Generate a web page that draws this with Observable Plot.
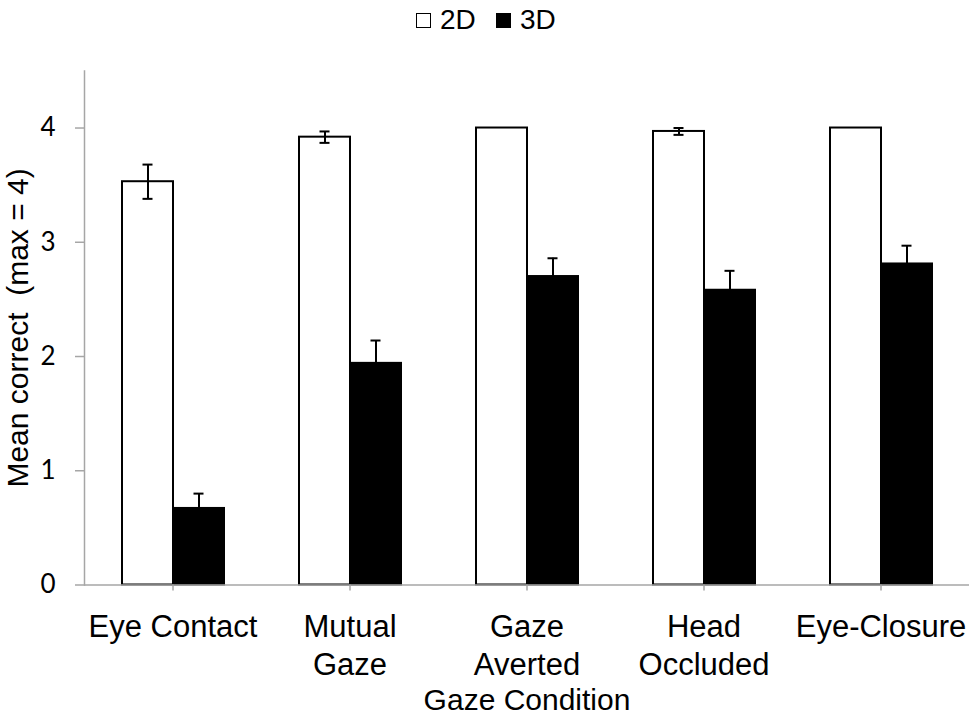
<!DOCTYPE html>
<html><head><meta charset="utf-8">
<script src="https://cdn.jsdelivr.net/npm/d3@7"></script>
<script src="https://cdn.jsdelivr.net/npm/@observablehq/plot@0.6"></script>
<style>
body{margin:0;background:#fff;width:975px;height:716px;overflow:hidden;}
#legend{height:40px;position:relative;font-family:"Liberation Sans",Arial,sans-serif;font-size:28px;color:#000;}
#legend .item{position:absolute;top:4px;display:flex;align-items:center;line-height:32px;}
#legend .sw{width:13px;height:13px;border:1.5px solid #000;margin-right:9px;}
#chart svg text{white-space:pre;}
#chart svg g[aria-label="y-axis tick label"]{font-family:Lato,"Open Sans",sans-serif;font-size:26px;}
#chart svg g[aria-label="fx-axis tick label"]{font-family:"Liberation Sans",Arial,sans-serif;font-size:31px;}
#chart svg g[aria-label="fx-axis label"]{font-family:"Liberation Sans",Arial,sans-serif;font-size:30px;}
</style></head><body>
<div id="legend"></div>
<div id="chart"></div>
<script>
const conditions = ["Eye Contact","Mutual Gaze","Gaze Averted","Head Occluded","Eye-Closure"];
const tickLabels = ["Eye Contact","Mutual\nGaze","Gaze\nAverted","Head\nOccluded","Eye-Closure"];
const series = ["2D","3D"];
const seriesColors = ["#ffffff","#000000"];
const mean2D = [3.53, 3.92, 4.00, 3.97, 4.00];
const err2D  = [0.15, 0.05, 0.00, 0.03, 0.00];
const mean3D = [0.67, 1.94, 2.70, 2.58, 2.81];
const err3D  = [0.13, 0.20, 0.16, 0.17, 0.16];
const yTicks = [0,1,2,3,4];
const yLabel = "Mean correct  (max = 4)";
const xLabel = "Gaze Condition";

const data = conditions.flatMap((c,i)=>[
  {condition:c, series:"2D", mean:mean2D[i], err:err2D[i]},
  {condition:c, series:"3D", mean:mean3D[i], err:err3D[i]}
]);
const errData = data.filter(d=>d.err>0);

// legend
const legend = document.getElementById("legend");
const legendLeft = [416, 496];
series.forEach((s,i)=>{
  const item = document.createElement("div");
  item.className="item";
  item.style.left = legendLeft[i]+"px";
  const sw = document.createElement("span");
  sw.className="sw"; sw.style.background = seriesColors[i];
  const t = document.createElement("span"); t.textContent = s;
  item.appendChild(sw); item.appendChild(t);
  legend.appendChild(item);
});

const axisGray = "#a6a6a6";
const chart = Plot.plot({
  width:975, height:676,
  marginLeft:84, marginRight:6, marginTop:30.4, marginBottom:131.5,
  fx:{domain:conditions, padding:0, label:null, axis:null},
  x:{domain:series, axis:null, paddingInner:0, paddingOuter:0.735},
  y:{domain:[0,4.5], axis:null},
  color:{domain:series, range:seriesColors},
  style:{fontFamily:"'Liberation Sans', Arial, sans-serif", background:"#fff", overflow:"visible"},
  marks:[
    Plot.barY(data,{fx:"condition", x:"series", y:"mean", fill:"series", stroke:"#000", strokeWidth:2}),
    Plot.ruleX(errData,{fx:"condition", x:"series", y1:d=>d.mean-d.err, y2:d=>d.mean+d.err, stroke:"#000", strokeWidth:2}),
    Plot.tickY(errData,{fx:"condition", x:"series", y:d=>d.mean+d.err, insetLeft:20.5, insetRight:20.5, stroke:"#000", strokeWidth:2}),
    Plot.tickY(errData,{fx:"condition", x:"series", y:d=>d.mean-d.err, insetLeft:20.5, insetRight:20.5, stroke:"#000", strokeWidth:2}),
    Plot.ruleY([0],{stroke:axisGray, strokeWidth:1.5}),
    Plot.frame({anchor:"left", stroke:axisGray, strokeWidth:1.5, facetAnchor:"left"}),
    Plot.axisY({ticks:yTicks, tickFormat:d=>String(d), tickSize:9, tickPadding:20, stroke:axisGray, strokeWidth:1.5, label:null,
      fontSize:26, fill:"#000", facetAnchor:"left"}),
    Plot.axisFx({anchor:"bottom", tickSize:6, tickPadding:20, stroke:axisGray, strokeWidth:1.5,
      tickFormat:d=>tickLabels[conditions.indexOf(d)], lineHeight:1.2, fontSize:31, fill:"#000",
      label:xLabel, labelAnchor:"center", labelOffset:125, labelArrow:"none"}),
    Plot.text([yLabel],{text:d=>d, frameAnchor:"left", textAnchor:"middle", rotate:-90, dx:-66, facetAnchor:"left",
      fontSize:30, fontFamily:"'Liberation Sans', Arial, sans-serif", fill:"#000"})
  ]
});
document.getElementById("chart").appendChild(chart);
</script>
</body></html>
